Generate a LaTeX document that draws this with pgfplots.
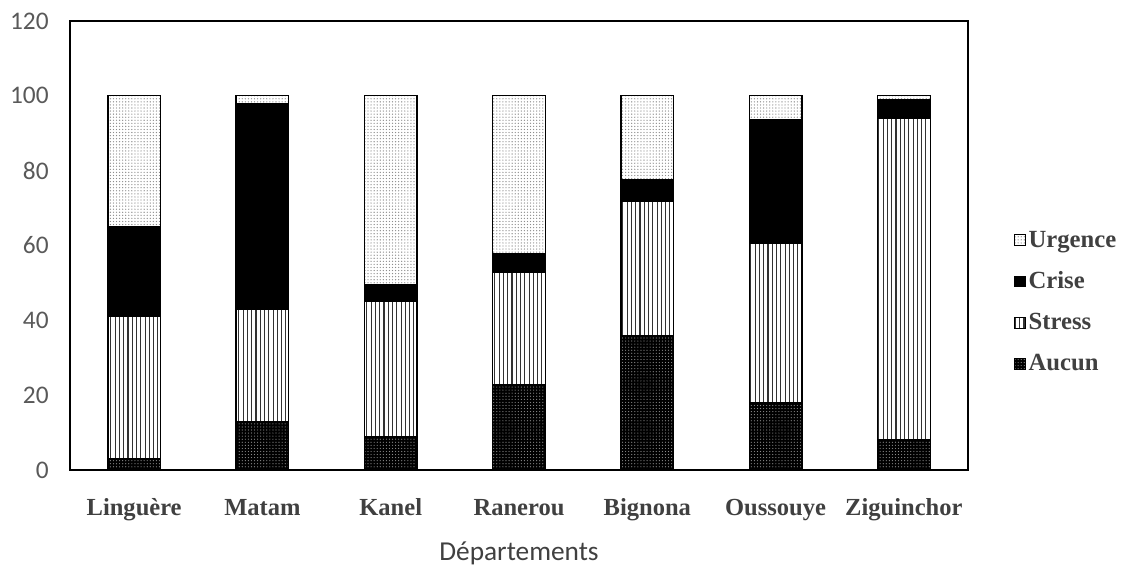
\documentclass[border=0pt]{standalone}
\usepackage{pgfplots}
\pgfplotsset{compat=1.18}
\usepackage{pgfplotstable}
\usepackage{fontspec}
\setmainfont{Liberation Serif}
\newfontfamily\calibri{Carlito}
\usetikzlibrary{patterns.meta}
\definecolor{tickgrey}{HTML}{595959}
\definecolor{labgrey}{HTML}{404040}

\pgfplotstableread{
x aucun stress crise urgence
0 3    38   24   35
1 13   30   55   2
2 9    36   4.5  50.5
3 22.7 30   5    42.3
4 36   35.7 5.8  22.5
5 18   42.6 32.9 6.5
6 8    86   5    1
}\data

\begin{document}
\begin{tikzpicture}
\begin{axis}[
  at={(52.5pt,73.5pt)}, anchor=south west,
  scale only axis, width=673.5pt, height=336.75pt,
  ybar stacked, bar width=0.41,
  xmin=-0.5, xmax=6.5, ymin=0, ymax=120,
  xtick={0,...,6},
  xticklabels={Linguère,Matam,Kanel,Ranerou,Bignona,Oussouye,Ziguinchor},
  ytick={0,20,...,120},
  major tick length=0pt,
  axis line style={line width=1.1pt, black},
  /pgf/number format/assume math mode=true,
  yticklabel style={font=\calibri\fontsize{19}{22}\selectfont, color=tickgrey, xshift=-12.5pt},
  xticklabel style={font=\bfseries\fontsize{18.4}{22}\selectfont, color=labgrey, anchor=base, yshift=-33.75pt},
  xlabel={Départements},
  xlabel style={font=\calibri\fontsize{20.5}{24}\selectfont, color=labgrey, at={(axis description cs:0.5,0)}, anchor=base, yshift=-68pt},
  legend image code/.code={\draw[#1, line width=0.6pt] (0pt,-4pt) rectangle (8pt,4pt);},
  reverse legend,
  legend cell align=left,
  legend style={at={(1.047,0.545)}, anchor=north west, draw=none, fill=none,
    font=\bfseries\fontsize{18.5}{22}\selectfont, text=labgrey, row sep=13pt,
    /tikz/every odd column/.style={inner xsep=1pt},
    /tikz/every even column/.style={inner xsep=5pt}},
]
\addplot[draw=black, line width=1pt, fill=black, postaction={pattern={Dots[radius=0.45pt, distance=2.3pt]}, pattern color=black!45}] table[x=x, y=aucun] {\data};
\addlegendentry{Aucun}
\addplot[draw=black, line width=1pt, fill=white, postaction={pattern={Lines[angle=90, distance=3.2pt, line width=0.8pt]}, pattern color=black!80}] table[x=x, y=stress] {\data};
\addlegendentry{Stress}
\addplot[draw=black, line width=1pt, fill=black] table[x=x, y=crise] {\data};
\addlegendentry{Crise}
\addplot[draw=black, line width=1pt, fill=white, postaction={pattern={Dots[radius=0.5pt, distance=2.3pt]}, pattern color=black!45}] table[x=x, y=urgence] {\data};
\addlegendentry{Urgence}
\end{axis}
\pgfresetboundingbox
\path (0,0) rectangle (843pt,426pt);
\end{tikzpicture}
\end{document}
